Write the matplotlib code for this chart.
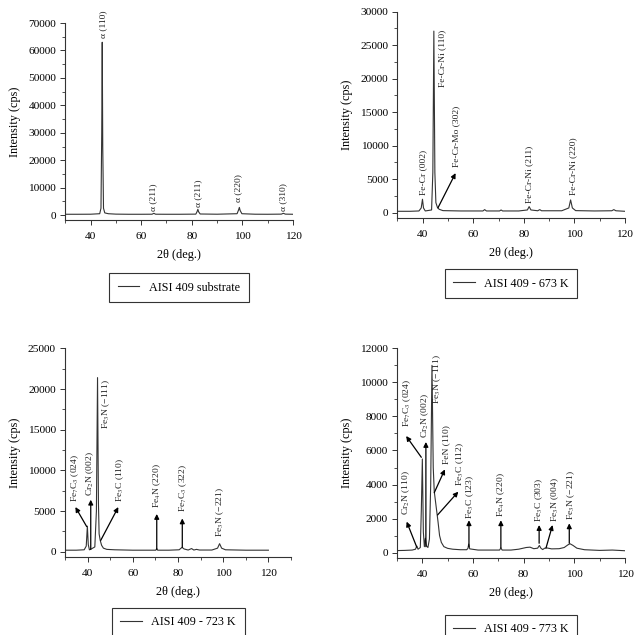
import matplotlib
matplotlib.use("Agg")
import matplotlib.pyplot as plt
from matplotlib.ticker import MultipleLocator

plt.rcParams['font.family'] = ['Liberation Serif', 'DejaVu Serif']
plt.rcParams['mathtext.fontset'] = 'stix'

# ---- data ----
# AISI 409 substrate
x_sub = [30, 35, 40, 43.6, 44.1, 44.4, 44.6, 44.8, 45.1, 45.6, 47, 50, 55, 60, 64.3, 65.0, 65.7,
         70, 75, 81.6, 82.1, 82.4, 82.7, 83.3, 90, 97.9, 98.5, 98.8, 99.1, 99.8, 105, 110,
         115.4, 116.2, 117, 120]
y_sub = [300, 300, 320, 500, 2500, 30000, 63000, 25000, 2500, 800, 500, 350, 300, 300, 320, 650, 320,
         300, 300, 350, 1300, 2100, 1200, 400, 320, 500, 1900, 2800, 1700, 500, 320, 300,
         350, 650, 350, 300]

# 673 K
x_673 = [30, 35, 38.5, 39.4, 39.9, 40.3, 41, 43.5, 44.0, 44.4, 44.8, 45.2, 45.8, 46.5, 48, 55,
         63.8, 64.5, 65.2, 70.4, 71.0, 71.6, 78, 81.4, 82.1, 82.8, 85.5, 86.3, 87, 95, 97.8,
         98.5, 99.2, 100.5, 108, 114.8, 115.6, 116.4, 120]
y_673 = [200, 200, 250, 700, 2000, 700, 250, 400, 6000, 27100, 6000, 1500, 800, 500, 300, 250,
         250, 450, 250, 250, 400, 250, 250, 400, 900, 400, 280, 450, 280, 280, 700,
         1900, 700, 300, 250, 280, 450, 280, 200]

# 723 K
x_723 = [30, 35, 38.5, 39.4, 39.9, 40.3, 40.8, 41.3, 43.2, 43.9, 44.4, 44.8, 45.1, 45.6, 46.2,
         47, 48.5, 52, 60, 70.2, 70.6, 71.0, 76, 80.5, 81.8, 82.7, 84.5, 86.0, 87.0, 88.2, 89.5,
         95, 97.5, 98.4, 99.3, 101, 110, 120]
y_723 = [200, 200, 250, 700, 3150, 900, 250, 300, 600, 5000, 21400, 6000, 2200, 1400, 800,
         450, 300, 250, 200, 200, 400, 200, 200, 250, 550, 350, 220, 400, 220, 300, 220,
         220, 450, 1000, 450, 250, 200, 200]

# 773 K
x_773 = [30, 33, 36, 37.3, 37.8, 38.3, 39.2, 39.6, 40.0, 40.4, 40.8, 41.2, 41.6, 42.2, 42.8,
         43.3, 43.8, 44.3, 44.7, 45.2, 45.7, 46.2, 46.8, 47.5, 48.5, 50, 52, 55, 57.5, 58.0,
         58.3, 58.7, 62, 66, 70.5, 71, 71.5, 75, 78, 79.5, 81, 82.5, 84, 85.5, 86.2, 86.8,
         87.5, 88.3, 89, 91, 94, 96, 97.5, 98.3, 99.5, 101, 104, 110, 115, 120]
y_773 = [120, 130, 150, 200, 390, 200, 300, 2500, 5500, 1200, 350, 850, 400, 300, 800,
         4000, 11000, 5000, 3600, 3000, 2400, 1800, 1000, 600, 350, 250, 200, 170, 170, 250,
         500, 220, 150, 150, 150, 280, 150, 150, 200, 250, 300, 320, 230, 260, 420, 260,
         180, 260, 280, 220, 230, 300, 460, 520, 420, 260, 170, 130, 150, 110]

# peak labels: text, x, y, vertical alignment
lab_sub = ['α (110)', 'α (211)', 'α (211)', 'α (220)', 'α (310)']
lab_sub_x = [44.8, 64.8, 82.4, 98.2, 116.0]
lab_sub_y = [64500, 1600, 3000, 4800, 1600]

lab_673 = ['Fe-Cr (002)', 'Fe-Cr-Ni (110)', 'Fe-Cr-Mo (302)', 'Fe-Cr-Ni (211)', 'Fe-Cr-Ni (220)']
lab_673_x = [40.0, 47.6, 53.4, 82.2, 99.6]
lab_673_y = [2600, 27300, 6800, 1500, 2600]
lab_673_va = ['bottom', 'top', 'bottom', 'bottom', 'bottom']
arr_673 = [((46.0, 700), (53.0, 5900))]

lab_723 = [r'Fe$_7$C$_3$ (024)', r'Cr$_2$N (002)', r'Fe$_3$N (−111)', r'Fe$_3$C (110)',
           r'Fe$_4$N (220)', r'Fe$_7$C$_3$ (322)', r'Fe$_3$N (−221)']
lab_723_x = [34.4, 41.3, 48.4, 54.3, 70.6, 82.1, 98.6]
lab_723_y = [6100, 6800, 21200, 6150, 5330, 4900, 1850]
lab_723_va = ['bottom', 'bottom', 'top', 'bottom', 'bottom', 'bottom', 'bottom']
arr_723 = [((39.6, 3100), (34.6, 5500)), ((41.4, 300), (41.4, 6400)),
           ((45.8, 1400), (53.6, 5500)), ((70.6, 300), (70.6, 4650)),
           ((81.9, 550), (81.9, 4100))]

lab_773 = [r'Cr$_2$N (110)', r'Fe$_7$C$_3$ (024)', r'Cr$_2$N (002)', r'Fe$_3$N (−111)',
           r'FeN (110)', r'Fe$_3$C (112)', r'Fe$_3$C (123)', r'Fe$_4$N (220)',
           r'Fe$_3$C (303)', r'Fe$_3$N (004)', r'Fe$_3$N (−221)']
lab_773_x = [33.8, 34.1, 41.0, 45.9, 49.6, 54.9, 58.8, 71.1, 86.1, 92.3, 98.8]
lab_773_y = [2200, 7400, 6750, 11700, 5200, 3900, 2000, 2100, 1820, 1820, 1920]
lab_773_va = ['bottom', 'bottom', 'bottom', 'top', 'bottom', 'bottom', 'bottom', 'bottom',
              'bottom', 'bottom', 'bottom']
arr_773 = [((37.8, 320), (33.8, 1820)), ((39.6, 5600), (33.6, 6850)),
           ((41.4, 350), (41.4, 6500)), ((44.7, 3520), (48.9, 4890)),
           ((46.0, 2210), (54.2, 3580)), ((58.4, 350), (58.4, 1900)),
           ((71.0, 280), (71.0, 1900)), ((86.1, 550), (86.1, 1620)),
           ((88.8, 260), (91.4, 1620)), ((98.0, 550), (98.0, 1720))]

legend_names = ['AISI 409 substrate', 'AISI 409 - 673 K', 'AISI 409 - 723 K', 'AISI 409 - 773 K']

# ---- figure ----
fig = plt.figure(figsize=(6.39, 6.35), dpi=100)

panels = [
    dict(rect=[0.1022, 0.6535, 0.3563, 0.3102], x=x_sub, y=y_sub, xlim=(30, 120),
         ylim=(-1800, 70000), ymaj=10000, lab=lab_sub, lx=lab_sub_x, ly=lab_sub_y,
         va=['bottom'] * 5, arr=[], leg=(0.280, 0.570)),
    dict(rect=[0.622, 0.6567, 0.356, 0.3249], x=x_673, y=y_673, xlim=(30, 120),
         ylim=(-800, 30000), ymaj=5000, lab=lab_673, lx=lab_673_x, ly=lab_673_y,
         va=lab_673_va, arr=arr_673, leg=(0.7997, 0.576)),
    dict(rect=[0.1017, 0.1233, 0.3537, 0.3282], x=x_723, y=y_723, xlim=(30, 130),
         ylim=(-600, 25000), ymaj=5000, lab=lab_723, lx=lab_723_x, ly=lab_723_y,
         va=lab_723_va, arr=arr_723, leg=(0.2786, 0.0425)),
    dict(rect=[0.6213, 0.1217, 0.3568, 0.3297], x=x_773, y=y_773, xlim=(30, 120),
         ylim=(-300, 12000), ymaj=2000, lab=lab_773, lx=lab_773_x, ly=lab_773_y,
         va=lab_773_va, arr=arr_773, leg=(0.7997, 0.0315)),
]

for p, name in zip(panels, legend_names):
    ax = fig.add_axes(p['rect'])
    line, = ax.plot(p['x'], p['y'], color='#333333', lw=0.8, label=name)
    ax.set_xlim(*p['xlim'])
    ax.set_ylim(*p['ylim'])
    for s in ['top', 'right']:
        ax.spines[s].set_visible(False)
    for s in ['left', 'bottom']:
        ax.spines[s].set_linewidth(0.8)
        ax.spines[s].set_color('#333333')
    ax.xaxis.set_major_locator(MultipleLocator(20))
    ax.xaxis.set_minor_locator(MultipleLocator(10))
    ax.yaxis.set_major_locator(MultipleLocator(p['ymaj']))
    ax.yaxis.set_minor_locator(MultipleLocator(p['ymaj'] / 2))
    ax.tick_params(which='major', direction='out', length=3.5, width=0.7,
                   labelsize=8.2, pad=3, color='#333333')
    ax.tick_params(which='minor', direction='out', length=2.5, width=0.6, color='#333333')
    ax.tick_params(axis='x', which='major', pad=5)
    ax.set_xlabel('2θ (deg.)', fontsize=8.8, labelpad=6)
    ax.set_ylabel('Intensity (cps)', fontsize=8.8, labelpad=5)

    for t, tx, ty, v in zip(p['lab'], p['lx'], p['ly'], p['va']):
        ax.text(tx, ty, t, rotation=90, ha='center', va=v, fontsize=6.8, color='#222222')
    for tail, head in p['arr']:
        ax.annotate('', xy=head, xytext=tail,
                    arrowprops=dict(arrowstyle='-|>', color='black', lw=0.9,
                                    mutation_scale=7, shrinkA=0, shrinkB=0))

    fig.legend(handles=[line], loc='upper center', bbox_to_anchor=p['leg'],
               fontsize=8.7, frameon=True, fancybox=False, edgecolor='#333333',
               framealpha=1, borderpad=0.7, handlelength=1.8, handletextpad=0.8,
               borderaxespad=0)

for lg in fig.legends:
    lg.get_frame().set_linewidth(0.8)

fig.savefig('out.png', dpi=100)
